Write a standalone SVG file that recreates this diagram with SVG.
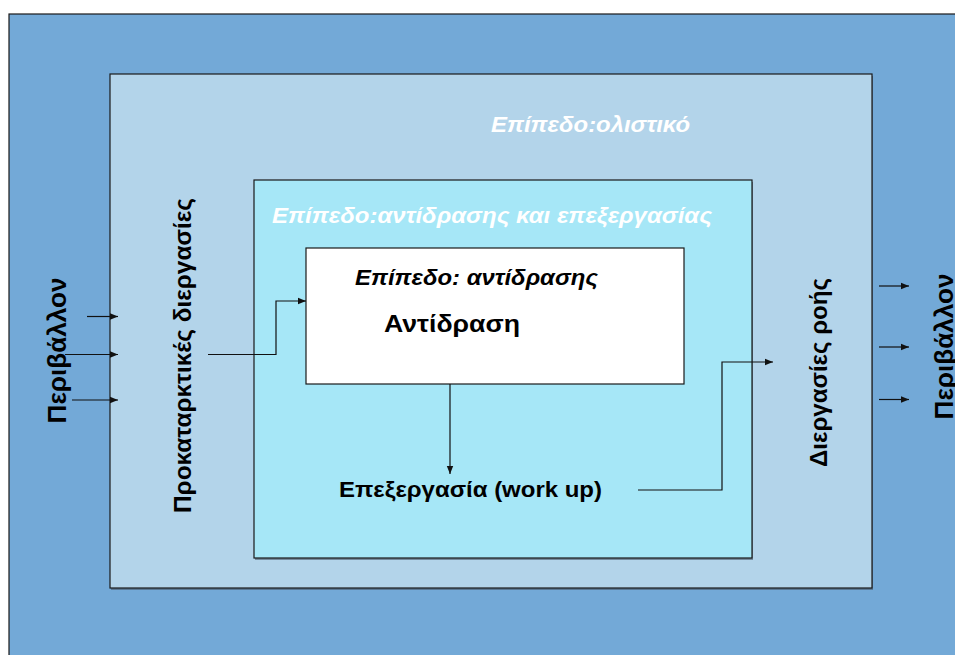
<svg xmlns="http://www.w3.org/2000/svg" width="955" height="655" viewBox="0 0 955 655">
<defs>
<style>
.box{stroke:#1a1a1a;stroke-width:1.2}
.sh{fill:#4a5a6a;opacity:0.6}
.t{font-family:"Liberation Sans",Arial,sans-serif;font-weight:bold}
.r{font-family:"Liberation Sans",Arial,sans-serif;font-weight:bold;fill:#000}
.w{fill:#ffffff;font-style:italic}
.c{fill:none;stroke:#111;stroke-width:1.2}
</style>
<marker id="ah" viewBox="0 0 10 10" refX="10" refY="5" markerWidth="8" markerHeight="8" markerUnits="userSpaceOnUse" orient="auto">
<path d="M0,1 L10,5 L0,9 z" fill="#111"/>
</marker>
</defs>
<rect width="955" height="655" fill="#ffffff"/>
<g id="outer">
<rect class="box" x="9" y="14" width="960" height="660" fill="#73A9D7"/>
<text class="r" font-size="26" transform="translate(66,350.5) rotate(-90)" text-anchor="middle" textLength="146" lengthAdjust="spacingAndGlyphs">Περιβάλλον</text>
<text class="r" font-size="26" transform="translate(953,346.5) rotate(-90)" text-anchor="middle" textLength="146" lengthAdjust="spacingAndGlyphs">Περιβάλλον</text>
</g>
<g id="holistic">
<rect class="sh" x="111" y="76" width="762" height="514"/>
<rect class="box" x="110" y="74" width="762" height="514" fill="#B3D4EA"/>
<text class="t w" font-size="22" x="491" y="132" textLength="199" lengthAdjust="spacingAndGlyphs">Επίπεδο:ολιστικό</text>
<text class="r" font-size="23" transform="translate(191,355.5) rotate(-90)" text-anchor="middle" textLength="315" lengthAdjust="spacingAndGlyphs">Προκαταρκτικές διεργασίες</text>
<text class="r" font-size="23" transform="translate(827,372.5) rotate(-90)" text-anchor="middle" textLength="189" lengthAdjust="spacingAndGlyphs">Διεργασίες ροής</text>
</g>
<g id="reaction-workup">
<rect class="sh" x="255" y="182" width="498" height="378"/>
<rect class="box" x="254" y="180" width="498" height="378" fill="#A6E7F7"/>
<text class="t w" font-size="22" x="272" y="223" textLength="440" lengthAdjust="spacingAndGlyphs">Επίπεδο:αντίδρασης και επεξεργασίας</text>
<text class="t" font-size="22" x="339" y="497" fill="#000" textLength="263" lengthAdjust="spacingAndGlyphs">Επεξεργασία (work up)</text>
</g>
<g id="reaction">
<rect class="box" x="306" y="248" width="378" height="136" fill="#ffffff"/>
<text class="t" font-size="22" font-style="italic" x="355" y="285" fill="#000" textLength="243" lengthAdjust="spacingAndGlyphs">Επίπεδο: αντίδρασης</text>
<text class="t" font-size="23" x="384" y="332" fill="#000" textLength="136" lengthAdjust="spacingAndGlyphs">Αντίδραση</text>
</g>
<g id="connectors">
<line class="c" x1="87" y1="316.5" x2="118" y2="316.5" marker-end="url(#ah)"/>
<line class="c" x1="65" y1="354.5" x2="118" y2="354.5" marker-end="url(#ah)"/>
<line class="c" x1="72" y1="400" x2="118" y2="400" marker-end="url(#ah)"/>
<polyline class="c" points="208,354.5 276,354.5 276,301 306,301" marker-end="url(#ah)"/>
<line class="c" x1="450" y1="384" x2="450" y2="474" marker-end="url(#ah)"/>
<polyline class="c" points="638,490 722,490 722,362 773,362" marker-end="url(#ah)"/>
<line class="c" x1="879" y1="286" x2="909" y2="286" marker-end="url(#ah)"/>
<line class="c" x1="879" y1="347" x2="909" y2="347" marker-end="url(#ah)"/>
<line class="c" x1="879" y1="399.5" x2="909" y2="399.5" marker-end="url(#ah)"/>
</g>
</svg>
